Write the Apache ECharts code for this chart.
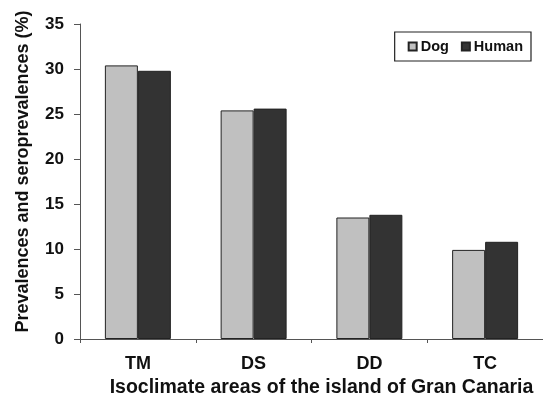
<!DOCTYPE html>
<html><head><meta charset="utf-8">
<script src="https://cdn.jsdelivr.net/npm/echarts@6/dist/echarts.min.js"></script>
<style>html,body{margin:0;padding:0;background:#fff}#c{width:543px;height:394px}</style>
</head><body><div id="c"></div>
<script>
var categories = ['TM', 'DS', 'DD', 'TC'];
var dogValues = [30.4, 25.4, 13.5, 9.9];
var humanValues = [29.8, 25.6, 13.8, 10.8];
var yTicks = [0, 5, 10, 15, 20, 25, 30, 35];

var chart = echarts.init(document.getElementById('c'), null, {renderer: 'canvas'});
var font = 'Liberation Sans, Arial, sans-serif';
chart.setOption({
  animation: false,
  backgroundColor: '#fff',
  grid: {left: 80, right: 0, top: 24, bottom: 55, containLabel: false, outerBoundsMode: 'none'},
  legend: {
    right: 12, top: 32,
    data: ['Dog', 'Human'],
    icon: 'rect',
    itemWidth: 8, itemHeight: 8, itemGap: 12,
    padding: [7, 8, 7, 13],
    borderColor: '#222', borderWidth: 1.2,
    textStyle: {fontFamily: font, fontWeight: 'bold', fontSize: 14.5, color: '#111', padding: [0, 0, 0, -1]}
  },
  xAxis: {
    type: 'category', data: categories,
    name: 'Isoclimate areas of the island of Gran Canaria',
    nameLocation: 'middle', nameGap: 36,
    nameTextStyle: {fontFamily: font, fontWeight: 'bold', fontSize: 19.5, color: '#111', padding: [0, 0, 0, 20]},
    axisLine: {lineStyle: {color: '#555', width: 1}},
    axisTick: {show: true, alignWithLabel: false, length: 4, lineStyle: {color: '#555'}},
    axisLabel: {fontFamily: font, fontWeight: 'bold', fontSize: 18, color: '#111', margin: 16}
  },
  yAxis: {
    type: 'value', min: 0, max: 35, interval: 5,
    name: 'Prevalences and seroprevalences (%)',
    nameLocation: 'middle', nameGap: 48,
    nameTextStyle: {fontFamily: font, fontWeight: 'bold', fontSize: 18, color: '#111', padding: [0, 0, 0, 20]},
    axisLine: {show: true, lineStyle: {color: '#555', width: 1}},
    axisTick: {show: true, length: 6, lineStyle: {color: '#555'}},
    splitLine: {show: false},
    axisLabel: {fontFamily: font, fontWeight: 'bold', fontSize: 17, color: '#111', margin: 16,
      formatter: function (v) { return yTicks.indexOf(v) >= 0 ? String(v) : ''; }}
  },
  series: [
    {name: 'Dog', type: 'bar', data: dogValues, barGap: '0%', barCategoryGap: '43%',
     itemStyle: {color: '#c0c0c0', borderColor: '#222', borderWidth: 1}},
    {name: 'Human', type: 'bar', data: humanValues,
     itemStyle: {color: '#333333', borderColor: '#222', borderWidth: 1}}
  ]
});
</script></body></html>
